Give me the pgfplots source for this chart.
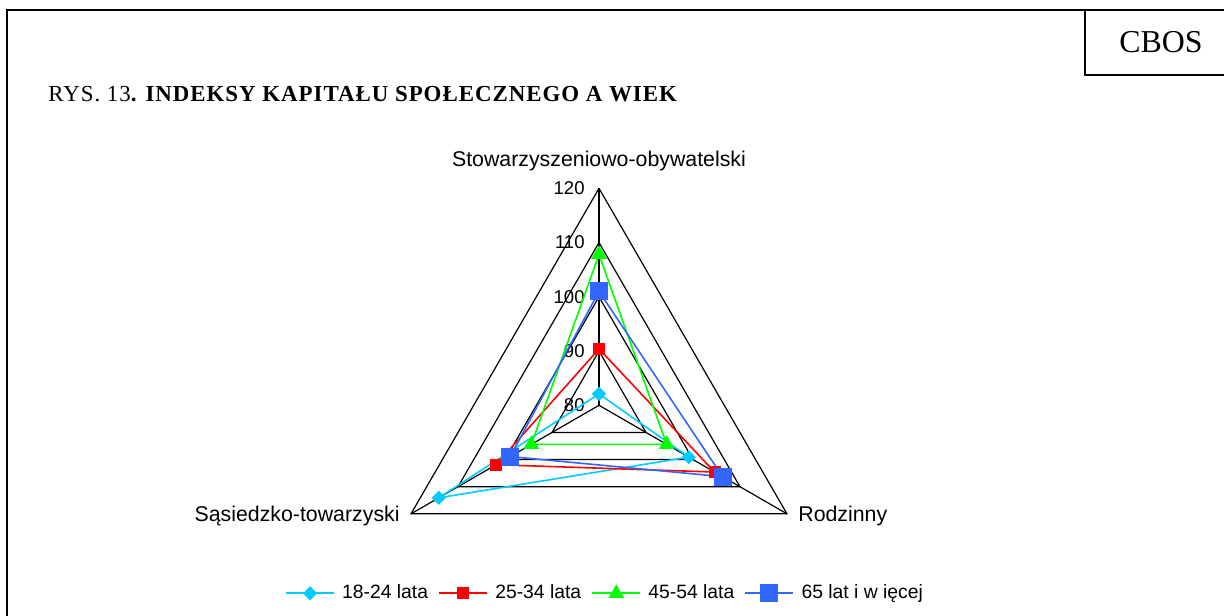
\documentclass[border=0pt]{standalone}
\usepackage{fontspec}
\setmainfont{Liberation Sans}
\newfontfamily\timesfont{Liberation Serif}
\newfontfamily\timestitle[LetterSpace=4.2]{Liberation Serif}
\usepackage{pgfplots}
\pgfplotsset{compat=1.18}
\usepgfplotslibrary{polar}
\definecolor{cyanx}{RGB}{0,204,255}
\definecolor{redx}{RGB}{255,0,0}
\definecolor{greenx}{RGB}{0,255,0}
\definecolor{bluex}{RGB}{51,102,255}
% legend sample: a coloured line with the mark in its middle
\pgfplotsset{
  legline/.style={legend image code/.code={
    \draw[draw=#1, line width=1.1bp] (0bp,0bp) -- (24bp,0bp);
    \draw[#1, mark repeat=2, mark phase=2] plot coordinates {(0bp,0bp) (12bp,0bp) (24bp,0bp)};}},
}
\begin{document}
\begin{tikzpicture}
\useasboundingbox (0bp,0bp) rectangle (612bp,-308bp);
% frame, title and axis names (positions in pixels of the reference)
\begin{scope}[x=0.5bp,y=-0.5bp]
\clip (0,0) rectangle (1224,616);
\draw[line width=1bp] (7,10) rectangle (1240,640);
\draw[line width=1bp] (1085,10) rectangle (1240,75);
\node[anchor=base west, inner sep=0, font=\timesfont\fontsize{16}{18}\selectfont] at (1119,52) {CBOS};
\node[anchor=base west, inner sep=0, font=\timestitle\fontsize{11.5}{13}\selectfont] at (48,102) {RYS. 13\textbf{. INDEKSY KAPITAŁU SPOŁECZNEGO A WIEK}};
\node[anchor=base, inner sep=0, font=\fontsize{10.7}{12}\selectfont] at (599,167) {Stowarzyszeniowo-obywatelski};
\node[anchor=base east, inner sep=0, font=\fontsize{10.7}{12}\selectfont] at (400,522) {Sąsiedzko-towarzyski};
\node[anchor=base west, inner sep=0, font=\fontsize{10.7}{12}\selectfont] at (798,522) {Rodzinny};
\foreach \v/\yy in {120/188.3,110/242.5,100/296.8,90/351,80/405.3}
  \node[anchor=base east, inner sep=0, font=\fontsize{9.3}{11}\selectfont] at (585,\yy+6.3) {\v};
\end{scope}

\begin{polaraxis}[
  at={(299.5bp,-202.65bp)}, anchor=origin,
  scale only axis, width=217bp, height=217bp,
  ymin=0, ymax=40,
  hide axis, clip=false,
  y filter/.expression={y-80},
  gridline/.style={black, line width=0.6bp, no marks, forget plot},
  every axis plot/.append style={line width=0.8bp},
  legend columns=4,
  legend style={at={(axis description cs:0.516,0.0668)}, anchor=center, draw=none, fill=none,
    font=\fontsize{9.7}{11}\selectfont,
    /tikz/every odd column/.append style={column sep=1.5bp},
    /tikz/every even column/.append style={column sep=3bp}},
]
\addplot[gridline] coordinates {(90,120) (330,120) (210,120) (90,120)};
\addplot[gridline] coordinates {(90,110) (330,110) (210,110) (90,110)};
\addplot[gridline] coordinates {(90,100) (330,100) (210,100) (90,100)};
\addplot[gridline] coordinates {(90,90) (330,90) (210,90) (90,90)};
\addplot[gridline] coordinates {(90,80) (90,120)};
\addplot[gridline] coordinates {(330,80) (330,120)};
\addplot[gridline] coordinates {(210,80) (210,120)};

\addplot[color=cyanx, mark=square*, mark size=2.1bp, mark options={rotate=45}, legline=cyanx]
  coordinates {(90,82.1) (330,99.1) (210,114.1) (90,82.1)};
\addlegendentry{18-24 lata}
\addplot[color=redx, mark=square*, mark size=2.6bp, legline=redx]
  coordinates {(90,90.4) (330,104.6) (210,101.9) (90,90.4)};
\addlegendentry{25-34 lata}
\addplot[color=greenx, mark=triangle*, mark size=3.7bp, legline=greenx]
  coordinates {(90,107.8) (330,94.4) (210,94.4) (90,107.8)};
\addlegendentry{45-54 lata}
\addplot[color=bluex, mark=square*, mark size=4.1bp, legline=bluex]
  coordinates {(90,101.0) (330,106.3) (210,98.9) (90,101.0)};
\addlegendentry{65 lat i w ięcej}
\end{polaraxis}
\end{tikzpicture}
\end{document}
